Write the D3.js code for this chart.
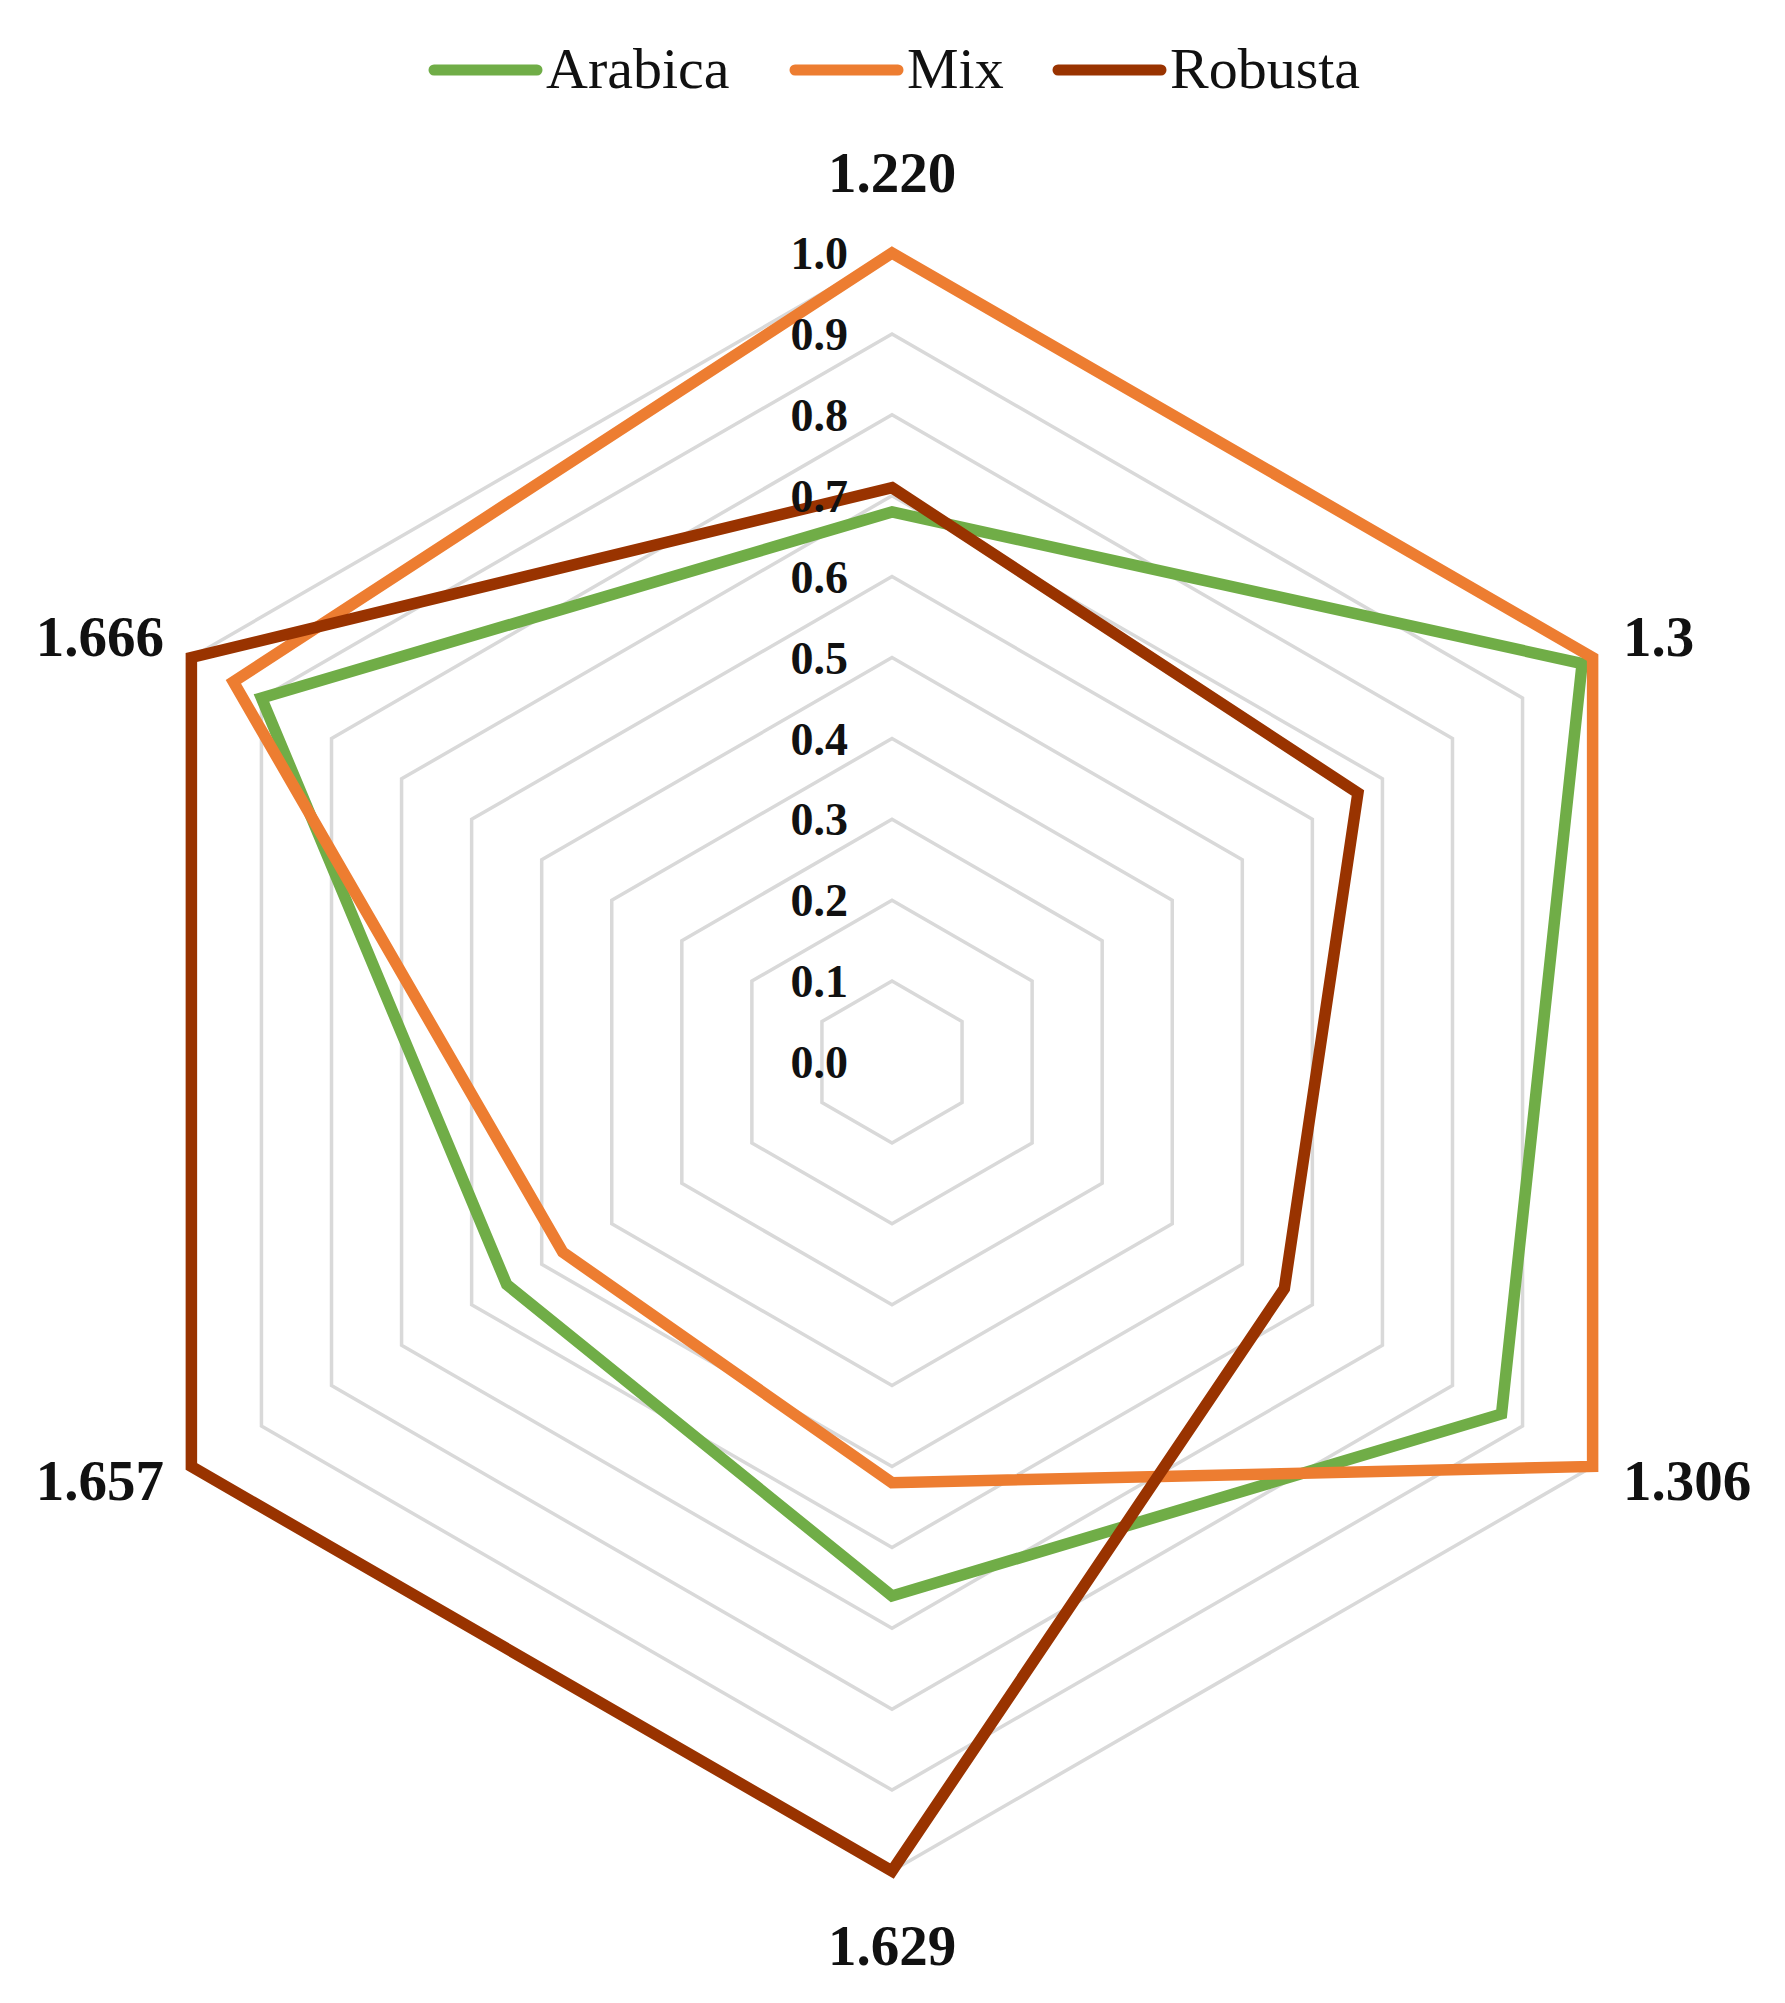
<!DOCTYPE html>
<html><head><meta charset="utf-8">
<script src="https://cdn.jsdelivr.net/npm/d3@7"></script>
<style>html,body{margin:0;padding:0;background:#fff;}svg{display:block;}</style>
</head><body>
<svg id="chart" width="1785" height="2003"></svg>
<script>
const categories = ["1.220", "1.3", "1.306", "1.629", "1.657", "1.666"];
const seriesNames = ["Arabica", "Mix", "Robusta"];
const arabica = [0.68, 0.985, 0.87, 0.66, 0.55, 0.90];
const mix = [1.0, 1.0, 1.0, 0.52, 0.47, 0.94];
const robusta = [0.71, 0.665, 0.56, 1.0, 1.0, 1.0];
const tickValues = [0.0, 0.1, 0.2, 0.3, 0.4, 0.5, 0.6, 0.7, 0.8, 0.9, 1.0];
const colors = ["#70ad47", "#ed7d31", "#993300"];

const svg = d3.select("#chart");
const cx = 892, cy = 1062, R = 809;
const r = d3.scaleLinear().domain([0, 1]).range([0, R]);
const angle = d3.scalePoint().domain(categories.concat(["_end"])).range([0, 2 * Math.PI]);
const g = svg.append("g").attr("transform", `translate(${cx},${cy})`);

// grid rings
const ringLine = d3.lineRadial().angle(d => angle(d.c)).radius(d => r(d.v)).curve(d3.curveLinearClosed);
tickValues.filter(t => t > 0).forEach(t => {
  g.append("path")
    .attr("d", ringLine(categories.map(c => ({c, v: t}))))
    .attr("fill", "none").attr("stroke", "#d9d9d9").attr("stroke-width", 3.5);
});

// series
const seriesData = [arabica, mix, robusta];
seriesData.forEach((vals, i) => {
  g.append("path")
    .attr("d", ringLine(categories.map((c, k) => ({c, v: vals[k]}))))
    .attr("fill", "none").attr("stroke", colors[i]).attr("stroke-width", 11.5)
    .attr("stroke-linejoin", "miter");
});

// tick labels
g.selectAll("text.tick").data(tickValues).enter().append("text")
  .attr("x", -44).attr("y", d => -r(d))
  .attr("dy", "0.35em")
  .attr("text-anchor", "end")
  .attr("font-family", "Liberation Serif, serif").attr("font-weight", "bold")
  .attr("font-size", 46).attr("fill", "#111")
  .text(d => d.toFixed(1));

// category labels
const labelPos = {
  "1.220": {x: 0, y: -890 + 20, anchor: "middle"},
  "1.3": {x: 731, y: -426 + 20, anchor: "start"},
  "1.306": {x: 731, y: 418 + 20, anchor: "start"},
  "1.629": {x: 0, y: 883 + 20, anchor: "middle"},
  "1.657": {x: -728, y: 418 + 20, anchor: "end"},
  "1.666": {x: -728, y: -426 + 20, anchor: "end"}
};
categories.forEach(c => {
  const p = labelPos[c];
  g.append("text").attr("x", p.x).attr("y", p.y)
    .attr("text-anchor", p.anchor)
    .attr("font-family", "Liberation Serif, serif").attr("font-weight", "bold")
    .attr("font-size", 57).attr("fill", "#111")
    .text(c);
});

// legend
const legendX = [434, 795, 1058];
const legend = svg.append("g");
seriesNames.forEach((name, i) => {
  legend.append("line")
    .attr("x1", legendX[i]).attr("x2", legendX[i] + 103)
    .attr("y1", 70).attr("y2", 70)
    .attr("stroke", colors[i]).attr("stroke-width", 11).attr("stroke-linecap", "round");
  legend.append("text")
    .attr("x", legendX[i] + 112).attr("y", 88)
    .attr("font-family", "Liberation Serif, serif")
    .attr("font-size", 58).attr("fill", "#111")
    .text(name);
});
</script>
</body></html>
